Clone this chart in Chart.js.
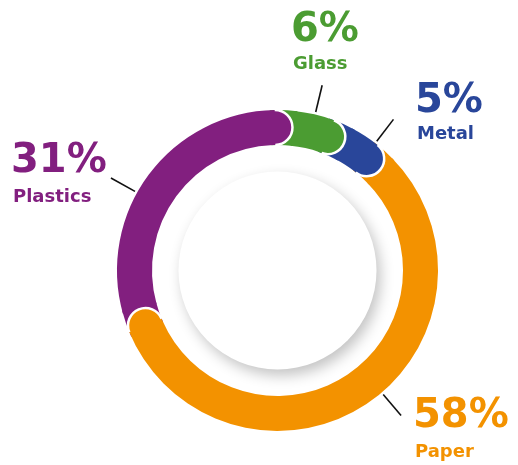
<!DOCTYPE html>
<html>
<head>
<meta charset="utf-8">
<script src="https://cdn.jsdelivr.net/npm/chart.js@4.4.1/dist/chart.umd.min.js"></script>
<style>
  html, body { margin: 0; padding: 0; background: #fff; }
  #wrap { width: 518px; height: 465px; }
</style>
</head>
<body>
<div id="wrap"><canvas id="mix" width="518" height="465"></canvas></div>
<script>
// waste composition, clockwise from the top
const categories = ['Glass', 'Metal', 'Paper', 'Plastics'];
const shares = [6, 5, 58, 31];
const colors = ['#4b9c32', '#29469a', '#f39200', '#821f7f'];

// ring geometry (px)
const outerR = 160.5;
const ringWidth = 35;
const capR = ringWidth / 2;
const diskR = 99;

// label placement: where along each slice the leader sits, and text anchors
const labelLayout = [
  { along: 0.35, x: 291, pctY: 41, nameY: 69 },
  { along: 0.55, x: 415, pctY: 112, nameY: 139 },
  { along: 0.45, x: 413, pctY: 427, nameY: 457 },
  { along: 0.40, x: 11, pctY: 172, nameY: 202 }
];

const FONT = '"DejaVu Sans", sans-serif';

function arcGeom(arc) {
  return arc.getProps(['x', 'y', 'startAngle', 'endAngle', 'innerRadius', 'outerRadius'], true);
}

// rounded tips: each slice ends in a half circle laid over the next one
const roundCaps = {
  id: 'roundCaps',
  beforeDatasetsDraw(chart) {
    const ctx = chart.ctx;
    const arcs = chart.getDatasetMeta(0).data;
    if (!arcs.length) return;
    const g0 = arcGeom(arcs[0]);

    // raised centre disk
    ctx.save();
    ctx.shadowColor = 'rgba(0,0,0,0.24)';
    ctx.shadowBlur = 14;
    ctx.shadowOffsetX = 4;
    ctx.shadowOffsetY = 6;
    ctx.beginPath();
    ctx.arc(g0.x, g0.y, diskR, 0, Math.PI * 2);
    ctx.fillStyle = '#fff';
    ctx.fill();
    ctx.restore();

    // fill the corners behind the previous slice's tip
    arcs.forEach((arc, i) => {
      const g = arcGeom(arc);
      const mid = (g.innerRadius + g.outerRadius) / 2;
      const back = (capR / mid) * 1.25;
      ctx.save();
      ctx.beginPath();
      ctx.arc(g.x, g.y, g.outerRadius, g.startAngle - back, g.startAngle + 0.02);
      ctx.arc(g.x, g.y, g.innerRadius, g.startAngle + 0.02, g.startAngle - back, true);
      ctx.closePath();
      ctx.fillStyle = colors[i];
      ctx.fill();
      ctx.restore();
    });
  },
  afterDatasetsDraw(chart) {
    const ctx = chart.ctx;
    const arcs = chart.getDatasetMeta(0).data;
    arcs.forEach((arc) => {
      const g = arcGeom(arc);
      const mid = (g.innerRadius + g.outerRadius) / 2;
      const a = g.endAngle - capR / mid;
      const cx = g.x + mid * Math.cos(a);
      const cy = g.y + mid * Math.sin(a);
      ctx.save();
      ctx.beginPath();
      ctx.arc(cx, cy, capR, a, a + Math.PI);
      ctx.strokeStyle = '#fff';
      ctx.lineWidth = 2.5;
      ctx.stroke();
      ctx.restore();
    });
  },
  afterDraw(chart) {
    const ctx = chart.ctx;
    const arcs = chart.getDatasetMeta(0).data;
    arcs.forEach((arc, i) => {
      const g = arcGeom(arc);
      const lay = labelLayout[i];
      const ang = g.startAngle + (g.endAngle - g.startAngle) * lay.along;
      const r1 = g.outerRadius + 2.5;
      const r2 = g.outerRadius + 30;
      ctx.save();
      ctx.beginPath();
      ctx.moveTo(g.x + r1 * Math.cos(ang), g.y + r1 * Math.sin(ang));
      ctx.lineTo(g.x + r2 * Math.cos(ang), g.y + r2 * Math.sin(ang));
      ctx.strokeStyle = '#111';
      ctx.lineWidth = 1.6;
      ctx.stroke();

      ctx.fillStyle = colors[i];
      ctx.textAlign = 'left';
      ctx.textBaseline = 'alphabetic';
      ctx.font = 'bold 40px ' + FONT;
      ctx.fillText(shares[i] + '%', lay.x, lay.pctY);
      ctx.font = 'bold 18px ' + FONT;
      ctx.fillText(categories[i], lay.x + 2, lay.nameY);
      ctx.restore();
    });
  }
};

new Chart(document.getElementById('mix'), {
  type: 'doughnut',
  data: {
    labels: categories,
    datasets: [{
      data: shares,
      backgroundColor: colors,
      borderWidth: 0,
      hoverOffset: 0,
      borderRadius: { outerStart: 0, innerStart: 0, outerEnd: capR, innerEnd: capR }
    }]
  },
  options: {
    responsive: false,
    animation: false,
    events: [],
    rotation: 6,
    radius: outerR,
    cutout: ((outerR - ringWidth) / outerR * 100) + '%',
    layout: { padding: { left: 37, right: 0, top: 76, bottom: 0 } },
    plugins: {
      legend: { display: false },
      tooltip: { enabled: false }
    }
  },
  plugins: [roundCaps]
});
</script>
</body>
</html>
